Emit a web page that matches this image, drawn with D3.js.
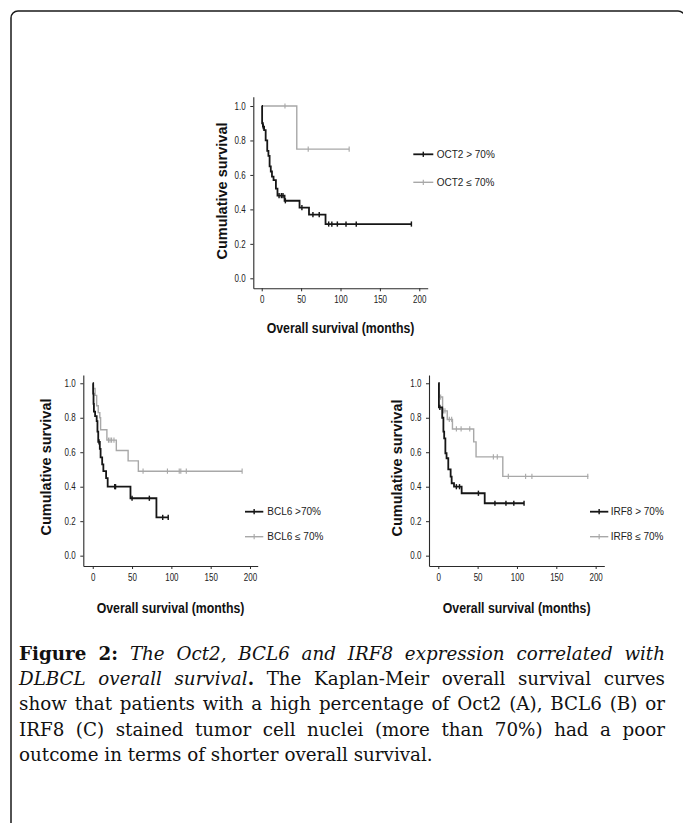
<!DOCTYPE html>
<html><head><meta charset="utf-8">
<script src="https://cdn.jsdelivr.net/npm/d3@7"></script>
<style>
html,body{margin:0;padding:0;background:#fff}
body{width:683px;height:823px;overflow:hidden;position:relative;font-family:"Liberation Sans",Arial,sans-serif}
svg{position:absolute;left:0;top:0}
.capline{position:absolute;left:19px;width:646px;font-family:"DejaVu Serif","Liberation Serif",serif;font-size:18.3px;line-height:25.3px;height:25.3px;color:#111;white-space:nowrap}
.just{text-align:justify;text-align-last:justify}
</style></head><body>
<svg id="chart" width="683" height="823"></svg>
<div id="caption"></div>
<script>
// ---------- data ----------
const xTicks = [0, 50, 100, 150, 200];
const yTicks = [0, 0.2, 0.4, 0.6, 0.8, 1.0];
const xTitle = "Overall survival (months)";
const yTitle = "Cumulative survival";

// Panel A: OCT2
const oct2HighTimes  = [0, 0.5, 1.5, 3, 5, 7, 8.5, 10, 11.5, 13, 15, 18, 20, 29, 48, 60, 81];
const oct2HighSurv   = [1, 0.90, 0.88, 0.86, 0.80, 0.74, 0.71, 0.65, 0.62, 0.59, 0.57, 0.52, 0.48, 0.45, 0.41, 0.37, 0.315];
const oct2HighEnd    = 190;
const oct2HighCensor = [2, 22, 25, 27, 30, 51, 65, 73, 85, 89, 96, 107, 120, 190];
const oct2LowTimes   = [0, 44.5];
const oct2LowSurv    = [1, 0.75];
const oct2LowEnd     = 111;
const oct2LowCensor  = [29.5, 59, 111];
const oct2Labels     = ["OCT2 > 70%", "OCT2 \u2264 70%"];

// Panel B: BCL6
const bcl6HighTimes  = [0, 0.5, 1, 1.5, 3, 5, 6, 7, 9, 10, 12, 13.5, 17, 19, 48, 81];
const bcl6HighSurv   = [1, 0.94, 0.88, 0.835, 0.81, 0.78, 0.72, 0.66, 0.62, 0.57, 0.53, 0.49, 0.45, 0.40, 0.333, 0.222];
const bcl6HighEnd    = 96;
const bcl6HighCensor = [8, 28, 29, 50, 72, 89, 96];
const bcl6LowTimes   = [0, 1, 3, 5, 7, 9, 10, 18, 30, 45, 58];
const bcl6LowSurv    = [1, 0.97, 0.93, 0.87, 0.83, 0.80, 0.73, 0.67, 0.61, 0.55, 0.49];
const bcl6LowEnd     = 190;
const bcl6LowCensor  = [20, 22, 24, 27, 64, 95, 110, 112, 119, 190];
const bcl6Labels     = ["BCL6 >70%", "BCL6 \u2264 70%"];

// Panel C: IRF8
const irf8HighTimes  = [0, 0.8, 5, 6.5, 7.5, 9, 10.5, 12.7, 15.7, 17, 20, 29.7, 59];
const irf8HighSurv   = [1, 0.86, 0.80, 0.72, 0.68, 0.594, 0.565, 0.50, 0.458, 0.42, 0.40, 0.362, 0.304];
const irf8HighEnd    = 109;
const irf8HighCensor = [2, 23, 27, 51, 72, 86, 96, 109];
const irf8LowTimes   = [0, 1, 5.5, 11.4, 18, 45, 48, 82];
const irf8LowSurv    = [1, 0.92, 0.84, 0.79, 0.735, 0.66, 0.573, 0.46];
const irf8LowEnd     = 190.7;
const irf8LowCensor  = [3, 6.5, 8.5, 14, 17, 23, 29, 40, 70, 75, 89, 111, 119, 190];
const irf8Labels     = ["IRF8 > 70%", "IRF8 \u2264 70%"];

// Caption
const captionLines = [
  [["Figure 2:", "b"], [" ", ""], ["The Oct2, BCL6 and IRF8 expression correlated with", "i"]],
  [["DLBCL overall survival", "i"], [".", "b"], [" The Kaplan-Meir overall survival curves", ""]],
  [["show that patients with a high percentage of Oct2 (A), BCL6 (B) or", ""]],
  [["IRF8 (C) stained tumor cell nuclei (more than 70%) had a poor", ""]],
  [["outcome in terms of shorter overall survival.", ""]]
];

// ---------- layout ----------
const BLACK = "#161616", GRAY = "#a8a8a8", AXIS = "#2a2a2a";
const panels = [
  { xDom: [-10.7, 210.7], xRange: [253.3, 427.7], yDom: [-0.058, 1.054], yRange: [288.3, 96.7],
    high: [oct2HighTimes, oct2HighSurv, oct2HighEnd, oct2HighCensor],
    low: [oct2LowTimes, oct2LowSurv, oct2LowEnd, oct2LowCensor], labels: oct2Labels,
    xTitleY: 333.3, yTitleX: 221.7, yTitleY: 191,
    leg: { x0: 413.3, x1: 433.3, tx: 436.7, y: [154.3, 182.3] } },
  { xDom: [-12, 209.8], xRange: [83.3, 257.7], yDom: [-0.06, 1.048], yRange: [566, 375],
    high: [bcl6HighTimes, bcl6HighSurv, bcl6HighEnd, bcl6HighCensor],
    low: [bcl6LowTimes, bcl6LowSurv, bcl6LowEnd, bcl6LowCensor], labels: bcl6Labels,
    xTitleY: 613.3, yTitleX: 45.5, yTitleY: 467,
    leg: { x0: 245, x1: 263.3, tx: 267.3, y: [511.7, 536.7] } },
  { xDom: [-11.8, 211], xRange: [429, 604.3], yDom: [-0.06, 1.048], yRange: [566, 375],
    high: [irf8HighTimes, irf8HighSurv, irf8HighEnd, irf8HighCensor],
    low: [irf8LowTimes, irf8LowSurv, irf8LowEnd, irf8LowCensor], labels: irf8Labels,
    xTitleY: 613.3, yTitleX: 396.7, yTitleY: 468,
    leg: { x0: 590, x1: 608.3, tx: 610.7, y: [511.7, 536.7] } }
];

const svg = d3.select("#chart");

// frame (rounded box, clipped at right/bottom)
svg.append("rect").attr("x", 11).attr("y", 11).attr("width", 674).attr("height", 860)
  .attr("rx", 7).attr("fill", "none").attr("stroke", "#1a1a1a").attr("stroke-width", 1.5);

function survAt(times, surv, t) {
  let s = surv[0];
  for (let i = 0; i < times.length; i++) if (times[i] <= t) s = surv[i];
  return s;
}

function drawSeries(g, x, y, series, color, width) {
  const [times, surv, end, censor] = series;
  const pts = times.map((t, i) => [t, surv[i]]);
  pts.push([end, surv[surv.length - 1]]);
  const line = d3.line().x(d => x(d[0])).y(d => y(d[1])).curve(d3.curveStepAfter);
  g.append("path").attr("d", line(pts)).attr("fill", "none")
    .attr("stroke", color).attr("stroke-width", width);
  g.selectAll(null).data(censor).enter().append("line")
    .attr("x1", d => x(d)).attr("x2", d => x(d))
    .attr("y1", d => y(survAt(times, surv, d)) - 2.6)
    .attr("y2", d => y(survAt(times, surv, d)) + 2.6)
    .attr("stroke", color).attr("stroke-width", width * 0.8);
}

panels.forEach(p => {
  const x = d3.scaleLinear().domain(p.xDom).range(p.xRange);
  const y = d3.scaleLinear().domain(p.yDom).range(p.yRange);
  const g = svg.append("g");

  const xa = g.append("g").attr("transform", `translate(0,${p.yRange[0]})`)
    .call(d3.axisBottom(x).tickValues(xTicks).tickSize(3).tickSizeOuter(0).tickPadding(5));
  const ya = g.append("g").attr("transform", `translate(${p.xRange[0]},0)`)
    .call(d3.axisLeft(y).tickValues(yTicks).tickSize(3).tickSizeOuter(0).tickPadding(6.5)
      .tickFormat(d3.format(".1f")));
  [xa, ya].forEach(a => {
    a.select(".domain").attr("stroke", AXIS).attr("stroke-width", 1.1);
    a.selectAll(".tick line").attr("stroke", AXIS).attr("stroke-width", 1);
    a.selectAll(".tick text").attr("fill", "#222").attr("font-size", 10)
      .attr("font-family", '"Liberation Sans", Arial, sans-serif')
      .attr("transform", "scale(0.8,1)");
  });

  drawSeries(g, x, y, p.low, GRAY, 1.4);
  drawSeries(g, x, y, p.high, BLACK, 1.8);

  // titles
  g.append("text").text(xTitle)
    .attr("transform", `translate(${(p.xRange[0] + p.xRange[1]) / 2},${p.xTitleY}) scale(0.85,1)`)
    .attr("text-anchor", "middle").attr("font-weight", "bold").attr("font-size", 14.5)
    .attr("fill", "#111");
  g.append("text").text(yTitle)
    .attr("transform", `translate(${p.yTitleX},${p.yTitleY}) rotate(-90)`)
    .attr("dy", "0.36em")
    .attr("text-anchor", "middle").attr("font-weight", "bold").attr("font-size", 14.5)
    .attr("fill", "#111");

  // legend
  const cols = [BLACK, GRAY], widths = [1.8, 1.4];
  p.labels.forEach((lab, i) => {
    const ly = p.leg.y[i];
    g.append("line").attr("x1", p.leg.x0).attr("x2", p.leg.x1).attr("y1", ly).attr("y2", ly)
      .attr("stroke", cols[i]).attr("stroke-width", widths[i]);
    const mx = (p.leg.x0 + p.leg.x1) / 2;
    g.append("line").attr("x1", mx).attr("x2", mx).attr("y1", ly - 2.6).attr("y2", ly + 2.6)
      .attr("stroke", cols[i]).attr("stroke-width", widths[i] * 0.8);
    g.append("text").text(lab).attr("x", p.leg.tx).attr("y", ly).attr("dy", "0.35em")
      .attr("font-size", 10).attr("fill", "#222");
  });
});

// caption
const cap = d3.select("#caption");
captionLines.forEach((segs, i) => {
  const div = cap.append("div").attr("class", "capline" + (i < captionLines.length - 1 ? " just" : ""))
    .style("top", (640.8 + i * 25.3) + "px");
  segs.forEach(([t, s]) => {
    const el = s === "b" ? div.append("b") : s === "i" ? div.append("i") : div.append("span");
    el.text(t);
  });
});
</script>
</body></html>
